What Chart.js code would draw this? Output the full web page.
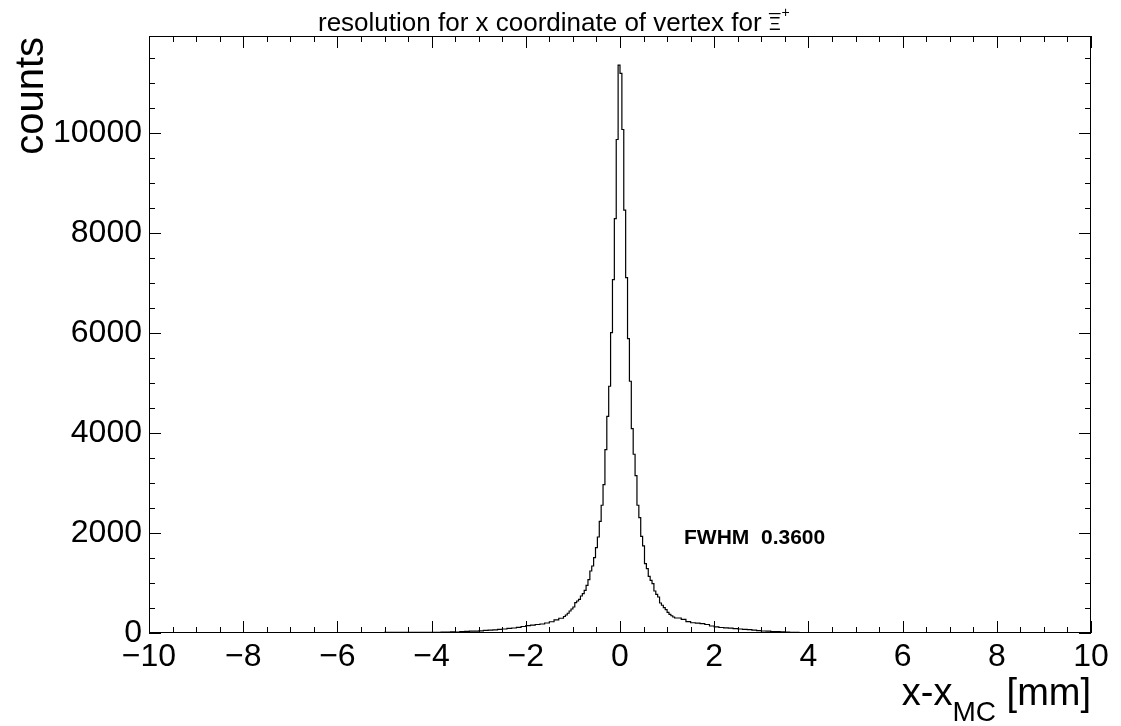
<!DOCTYPE html>
<html>
<head>
<meta charset="utf-8">
<script src="https://cdn.jsdelivr.net/npm/chart.js@4.4.1/dist/chart.umd.min.js"></script>
<style>
  html, body { margin: 0; padding: 0; background: #fff; }
  #wrap { width: 1121px; height: 726px; }
</style>
</head>
<body>
<div id="wrap"><canvas id="resChart" width="1121" height="726"></canvas></div>
<script>
// Histogram bin counts, grouped by bin width
const farLeftStart = -10, farLeftWidth = 0.5;
const farLeftCounts = [1, 1, 2, 3, 4, 5, 6, 6, 8, 9, 11, 13];

const tailLeftStart = -4, tailLeftWidth = 0.1;
const tailLeftCounts = [14, 12, 18, 16, 22, 20, 28, 34, 38, 36,
                        44, 52, 58, 62, 74, 80, 92, 100, 112, 130,
                        148, 156, 170, 180, 200, 225, 262, 295];

const coreStart = -1.2, coreWidth = 0.04;
const coreCounts = [330, 360, 395, 440, 480, 520, 609, 641, 675, 741,
                    789, 855, 955, 1069, 1241, 1341, 1510, 1710, 1922, 2236,
                    2557, 2971, 3672, 4338, 4939, 6014, 7075, 8296, 9878, 11368,
                    11200, 10078, 8463, 7115, 5894, 5039, 4092, 3578, 3151, 2557,
                    2310, 1936, 1742, 1389, 1289, 1135, 1055, 989, 841, 775,
                    721, 601, 555, 508, 468, 414, 374, 345, 320, 300];

const tailRightStart = 1.2, tailRightWidth = 0.1;
const tailRightCounts = [300, 272, 228, 205, 196, 188, 170, 140, 122, 110,
                         104, 96, 88, 80, 72, 66, 56, 46, 40, 36,
                         30, 28, 22, 16, 14, 12, 9, 8];

const farRightStart = 4, farRightWidth = 0.5;
const farRightCounts = [7, 6, 5, 5, 4, 3, 3, 2, 1, 1, 1, 0];

const xTickLabels = [-10, -8, -6, -4, -2, 0, 2, 4, 6, 8, 10];
const yTickLabels = [0, 2000, 4000, 6000, 8000, 10000];

// build step points (low edge of each bin)
const points = [];
function addBins(start, width, counts) {
    counts.forEach((c, i) => points.push({ x: +(start + i * width).toFixed(3), y: c }));
}
addBins(farLeftStart, farLeftWidth, farLeftCounts);
addBins(tailLeftStart, tailLeftWidth, tailLeftCounts);
addBins(coreStart, coreWidth, coreCounts);
addBins(tailRightStart, tailRightWidth, tailRightCounts);
addBins(farRightStart, farRightWidth, farRightCounts);
points.push({ x: 10, y: farRightCounts[farRightCounts.length - 1] });

const FONT = '"Liberation Sans", Arial, Helvetica, sans-serif';

// ROOT-like frame: box, inward ticks on all four sides, titles
const framePlugin = {
    id: 'rootFrame',
    afterDraw(chart) {
        const { ctx, chartArea: a } = chart;
        const xs = chart.scales.x, ys = chart.scales.y;
        ctx.save();
        ctx.strokeStyle = '#000';
        ctx.lineWidth = 1;
        ctx.strokeRect(Math.round(a.left) + 0.5, Math.round(a.top) + 0.5,
                       Math.round(a.right - a.left) - 1, Math.round(a.bottom - a.top) - 1);

        ctx.beginPath();
        for (let v = -10; v <= 10.001; v += 0.5) {
            const px = Math.round(xs.getPixelForValue(v)) + 0.5;
            const len = Math.abs(v % 2) < 1e-6 ? 12 : 6;
            ctx.moveTo(px, a.bottom); ctx.lineTo(px, a.bottom - len);
            ctx.moveTo(px, a.top); ctx.lineTo(px, a.top + len);
        }
        for (let v = 0; v <= ys.max; v += 500) {
            const py = Math.round(ys.getPixelForValue(v)) + 0.5;
            const len = v % 2000 === 0 ? 12 : 6;
            ctx.moveTo(a.left, py); ctx.lineTo(a.left + len, py);
            ctx.moveTo(a.right, py); ctx.lineTo(a.right - len, py);
        }
        ctx.stroke();

        ctx.fillStyle = '#000';
        // main title
        ctx.font = '26px ' + FONT;
        ctx.textBaseline = 'alphabetic';
        ctx.textAlign = 'left';
        const t1 = 'resolution for x coordinate of vertex for ';
        const tx = 318, ty = 31;
        ctx.fillText(t1, tx, ty);
        const xiX = tx + ctx.measureText(t1).width;
        ctx.font = '18px ' + FONT;
        ctx.fillText('\u039E', xiX, ty - 1);
        const xiW = ctx.measureText('\u039E').width;
        ctx.fillRect(xiX, ty - 18, xiW, 1.2);
        ctx.font = '14px ' + FONT;
        ctx.fillText('+', xiX + xiW + 1, ty - 14);

        // y title
        ctx.save();
        ctx.translate(43, 37);
        ctx.rotate(-Math.PI / 2);
        ctx.font = '40px ' + FONT;
        ctx.textAlign = 'right';
        ctx.fillText('counts', 0, 0);
        ctx.restore();

        // x title, right aligned at frame edge
        const big = '38px ' + FONT, small = '28px ' + FONT;
        ctx.font = big;
        const wA = ctx.measureText('x-x').width, wC = ctx.measureText(' [mm]').width;
        ctx.font = small;
        const wB = ctx.measureText('MC').width;
        let cx = a.right - (wA + wB + wC);
        ctx.font = big;
        ctx.fillText('x-x', cx, 705);
        cx += wA;
        ctx.font = small;
        ctx.fillText('MC', cx, 721);
        cx += wB;
        ctx.font = big;
        ctx.fillText(' [mm]', cx, 705);

        // FWHM annotation
        ctx.font = 'bold 21px ' + FONT;
        ctx.textBaseline = 'middle';
        ctx.fillText('FWHM  0.3600', 684, 538);
        ctx.restore();
    }
};

document.addEventListener('DOMContentLoaded', function () {
    const ctx = document.getElementById('resChart').getContext('2d');

    new Chart(ctx, {
        type: 'line',
        data: {
            datasets: [{
                data: points,
                stepped: true,
                borderColor: '#000',
                borderWidth: 1.2,
                pointRadius: 0,
                fill: false
            }]
        },
        options: {
            responsive: false,
            animation: false,
            devicePixelRatio: 1,
            layout: { padding: { top: 36, right: 30, left: 0, bottom: 0 } },
            plugins: {
                legend: { display: false },
                tooltip: { enabled: false }
            },
            scales: {
                x: {
                    type: 'linear',
                    min: -10,
                    max: 10,
                    afterFit: s => { s.height = 93; },
                    afterBuildTicks: s => { s.ticks = xTickLabels.map(v => ({ value: v })); },
                    grid: { display: false, drawTicks: false },
                    border: { display: false },
                    ticks: {
                        color: '#000',
                        padding: 5,
                        maxRotation: 0,
                        autoSkip: false,
                        font: { family: FONT, size: 32 },
                        callback: v => String(v).replace('-', '\u2212')
                    }
                },
                y: {
                    min: 0,
                    max: 11950,
                    afterFit: s => { s.width = 149; },
                    afterBuildTicks: s => { s.ticks = yTickLabels.map(v => ({ value: v })); },
                    grid: { display: false, drawTicks: false },
                    border: { display: false },
                    ticks: {
                        color: '#000',
                        padding: 7,
                        font: { family: FONT, size: 32 },
                        callback: v => String(v)
                    }
                }
            }
        },
        plugins: [framePlugin]
    });
});
</script>
</body>
</html>
